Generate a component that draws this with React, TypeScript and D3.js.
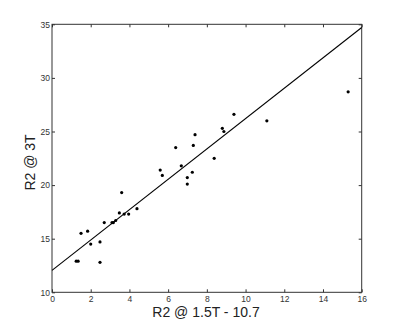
import React, { useRef, useEffect } from "react";
import * as d3 from "d3";

// scatter values
const xVals = [
  1.25, 1.35, 1.5, 1.84, 2.0, 2.48, 2.48, 2.7, 3.1, 3.17, 3.29, 3.48, 3.6, 3.73,
  3.96, 4.39, 5.59, 5.7, 6.68, 6.99, 6.99, 7.25, 6.39, 7.3, 7.39, 8.38, 8.8,
  8.88, 9.4, 11.1, 15.3,
];
const yVals = [
  12.9, 12.9, 15.5, 15.7, 14.5, 14.7, 12.8, 16.5, 16.5, 16.5, 16.7, 17.4, 19.3,
  17.3, 17.3, 17.8, 21.4, 20.9, 21.8, 20.7, 20.1, 21.2, 23.5, 23.7, 24.7, 22.5,
  25.3, 25.0, 26.6, 26.0, 28.7,
];

// fitted line end points
const fitX = [0, 16];
const fitY = [12.05, 34.7];

const xTicks = [0, 2, 4, 6, 8, 10, 12, 14, 16];
const yTicks = [10, 15, 20, 25, 30, 35];

const xLabel = "R2 @ 1.5T - 10.7";
const yLabel = "R2 @ 3T";

const App = () => {
  const svgRef = useRef<SVGSVGElement>(null);

  useEffect(() => {
    const width = 400;
    const height = 329;
    const margin = { top: 24.3, right: 38.3, bottom: 36.7, left: 52 };
    const font = "'Liberation Sans', Arial, sans-serif";

    const svg = d3.select(svgRef.current);
    svg.selectAll("*").remove();
    svg.attr("width", width).attr("height", height);

    const w = width - margin.left - margin.right;
    const h = height - margin.top - margin.bottom;

    const x = d3.scaleLinear().domain([0, 16]).range([0, w]);
    const y = d3.scaleLinear().domain([10, 35]).range([h, 0]);

    const g = svg
      .append("g")
      .attr("transform", `translate(${margin.left},${margin.top})`);

    const styleAxis = (sel: any, showText: boolean) => {
      sel.select(".domain").remove();
      sel.selectAll("line").attr("stroke", "#333");
      sel
        .selectAll("text")
        .attr("fill", "#333")
        .style("font-family", font)
        .style("font-size", "8.5px")
        .style("display", showText ? null : "none");
    };

    // bottom axis, ticks inward
    g.append("g")
      .attr("transform", `translate(0,${h})`)
      .call(
        d3.axisBottom(x).tickValues(xTicks).tickSizeInner(-3).tickSizeOuter(0).tickPadding(4)
      )
      .call((s: any) => styleAxis(s, true));

    // top axis, no labels
    g.append("g")
      .call(d3.axisTop(x).tickValues(xTicks).tickSizeInner(-3).tickSizeOuter(0))
      .call((s: any) => styleAxis(s, false));

    // left axis
    g.append("g")
      .call(
        d3.axisLeft(y).tickValues(yTicks).tickSizeInner(-3).tickSizeOuter(0).tickPadding(2)
      )
      .call((s: any) => styleAxis(s, true));

    // right axis, no labels
    g.append("g")
      .attr("transform", `translate(${w},0)`)
      .call(d3.axisRight(y).tickValues(yTicks).tickSizeInner(-3).tickSizeOuter(0))
      .call((s: any) => styleAxis(s, false));

    // box
    g.append("rect")
      .attr("x", 0)
      .attr("y", 0)
      .attr("width", w)
      .attr("height", h)
      .attr("fill", "none")
      .attr("stroke", "#333")
      .attr("stroke-width", 1);

    // fit line
    const line = d3
      .line<number>()
      .x((d) => x(fitX[d]))
      .y((d) => y(fitY[d]));
    g.append("path")
      .datum([0, 1])
      .attr("d", line)
      .attr("fill", "none")
      .attr("stroke", "#000")
      .attr("stroke-width", 1.1);

    // points
    g.selectAll(".dot")
      .data(xVals.map((v, i) => [v, yVals[i]]))
      .enter()
      .append("circle")
      .attr("class", "dot")
      .attr("cx", (d) => x(d[0]))
      .attr("cy", (d) => y(d[1]))
      .attr("r", 1.6)
      .attr("fill", "#000");

    // axis titles
    svg
      .append("text")
      .attr("x", 206)
      .attr("y", 317)
      .attr("text-anchor", "middle")
      .style("font-family", font)
      .style("font-size", "14px")
      .attr("fill", "#222")
      .text(xLabel);

    svg
      .append("text")
      .attr("transform", `translate(35,162.5) rotate(-90)`)
      .attr("text-anchor", "middle")
      .style("font-family", font)
      .style("font-size", "14px")
      .attr("fill", "#222")
      .text(yLabel);
  }, []);

  return (
    <svg
      ref={svgRef}
      style={{ position: "absolute", left: 0, top: 0, background: "#fff" }}
    ></svg>
  );
};

export default App;
